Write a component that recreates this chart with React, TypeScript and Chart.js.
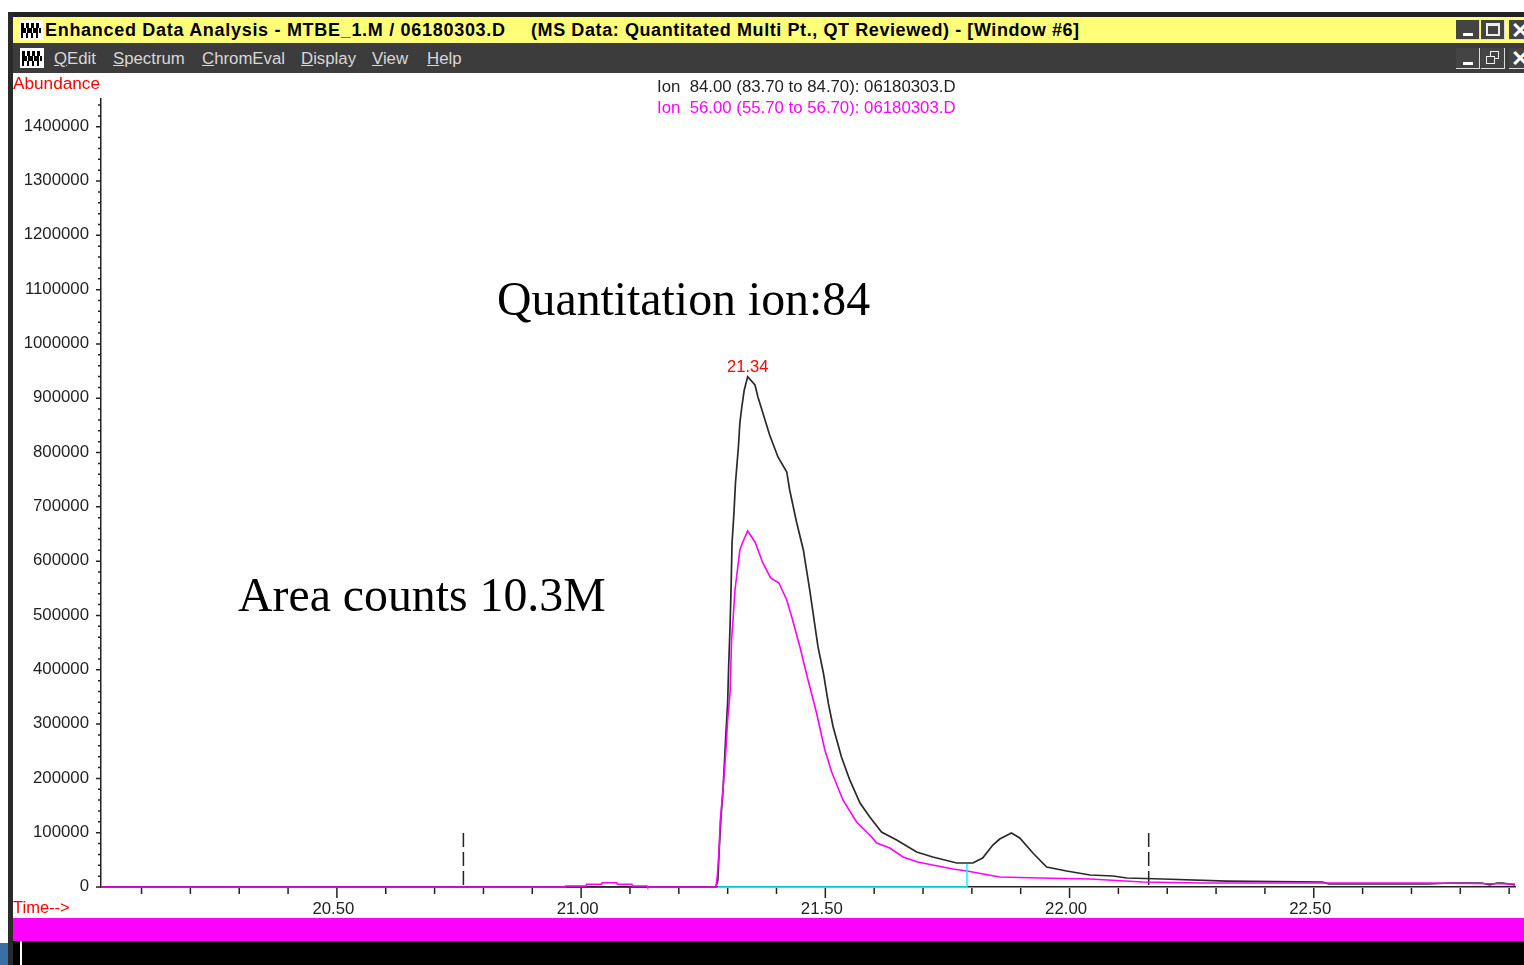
import React, { useEffect, useRef } from "react";
import { Chart, registerables } from "chart.js";

Chart.register(...registerables);

const ion84Label = "Ion  84.00 (83.70 to 84.70): 06180303.D";
const ion56Label = "Ion  56.00 (55.70 to 56.70): 06180303.D";
const peakLabel = "21.34";
const peakTime = 21.341;
const peakAbundance = 939800;

const ion84Times = [20.017, 21.276, 21.28, 21.283, 21.286, 21.29, 21.293, 21.296, 21.3, 21.302, 21.305, 21.307, 21.309, 21.313, 21.316, 21.322, 21.325, 21.329, 21.334, 21.341, 21.356, 21.362, 21.386, 21.403, 21.421, 21.427, 21.441, 21.455, 21.468, 21.485, 21.496, 21.506, 21.516, 21.533, 21.55, 21.571, 21.591, 21.615, 21.646, 21.687, 21.72, 21.769, 21.802, 21.822, 21.843, 21.857, 21.881, 21.898, 21.925, 21.953, 21.994, 22.042, 22.089, 22.117, 22.191, 22.322, 22.518, 22.531, 22.735, 22.778, 22.844, 22.86, 22.875, 22.887, 22.912];
const ion84Abundance = [0, 0, 12900, 73700, 123400, 173100, 221000, 276200, 338900, 405200, 482500, 550600, 633500, 690600, 744000, 810300, 854500, 884000, 915300, 939800, 924500, 902400, 832400, 791900, 764300, 731100, 672200, 620600, 547000, 442000, 394100, 338900, 294700, 239400, 197100, 154700, 128900, 101300, 86600, 64500, 55200, 44200, 44200, 53400, 77300, 88400, 99400, 90200, 62600, 36800, 29500, 22100, 20300, 16600, 14700, 11000, 9200, 5500, 5500, 7400, 7400, 3700, 7400, 7400, 3700];

const ion56Times = [20.017, 20.967, 20.968, 21.01, 21.011, 21.042, 21.043, 21.073, 21.074, 21.104, 21.105, 21.135, 21.136, 21.276, 21.279, 21.282, 21.285, 21.291, 21.296, 21.3, 21.305, 21.308, 21.311, 21.315, 21.325, 21.331, 21.341, 21.356, 21.372, 21.388, 21.405, 21.421, 21.433, 21.448, 21.462, 21.482, 21.499, 21.513, 21.536, 21.564, 21.595, 21.605, 21.632, 21.659, 21.689, 21.761, 21.79, 21.857, 21.939, 22.042, 22.15, 22.273, 22.533, 22.733, 22.912];
const ion56Abundance = [0, 0, 1800, 1800, 5000, 5000, 7900, 7900, 5000, 5000, 1800, 1800, 0, 0, 22100, 62600, 123400, 184200, 246800, 307500, 359100, 454900, 491700, 547000, 620600, 635400, 655600, 635400, 596700, 569100, 559800, 528500, 491700, 442000, 390400, 320400, 252300, 211800, 160200, 119700, 92100, 81000, 71800, 55200, 46000, 33100, 29500, 18400, 16600, 14700, 9200, 7400, 7400, 7400, 5500];

const baselineTimes = [21.28, 21.79, 21.79];
const baselineAbundance = [0, 0, 42400];
const startMarkerTimes = [20.759, 20.759];
const startMarkerAbundance = [3700, 99400];
const endMarkerTimes = [22.162, 22.162];
const endMarkerAbundance = [3700, 99400];

const xMin = 20.017;
const xMax = 22.912;
const yMax = 1452000;
const xStep = 0.1;
const yMinorTicks = [0, 20000, 40000, 60000, 80000, 100000, 120000, 140000, 160000, 180000, 200000, 220000, 240000, 260000, 280000, 300000, 320000, 340000, 360000, 380000, 400000, 420000, 440000, 460000, 480000, 500000, 520000, 540000, 560000, 580000, 600000, 620000, 640000, 660000, 680000, 700000, 720000, 740000, 760000, 780000, 800000, 820000, 840000, 860000, 880000, 900000, 920000, 940000, 960000, 980000, 1000000, 1020000, 1040000, 1060000, 1080000, 1100000, 1120000, 1140000, 1160000, 1180000, 1200000, 1220000, 1240000, 1260000, 1280000, 1300000, 1320000, 1340000, 1360000, 1380000, 1400000, 1420000, 1440000];

const menuItems = [
  ["Q", "Edit", 54],
  ["S", "pectrum", 113],
  ["C", "hromEval", 202],
  ["D", "isplay", 301],
  ["V", "iew", 372],
  ["H", "elp", 427],
] as const;

const zip = (xs: number[], ys: number[]) => xs.map((x, i) => ({ x, y: ys[i] }));
const SANS = '"Liberation Sans"';
const isWhole = (v: number, per: number) => Math.abs(v * per - Math.round(v * per)) < 1e-6;

const overlayPlugin = {
  id: "overlay",
  afterDatasetsDraw(chart: any) {
    const { ctx, scales } = chart;
    const x = scales.x;
    const y = scales.y;
    ctx.save();
    ctx.strokeStyle = "#222";
    ctx.lineWidth = 1.5;
    ctx.beginPath();
    for (const t of x.ticks) {
      const px = x.getPixelForValue(t.value);
      ctx.moveTo(px, y.bottom + 1);
      ctx.lineTo(px, y.bottom + (isWhole(t.value, 2) ? 11 : 7));
    }
    for (const t of y.ticks) {
      const py = y.getPixelForValue(t.value);
      ctx.moveTo(x.left, py);
      ctx.lineTo(x.left - (isWhole(t.value / 100000, 1) ? 5 : 3), py);
    }
    ctx.stroke();

    ctx.textBaseline = "middle";
    ctx.font = `17.2px ${SANS}`;
    ctx.textAlign = "left";
    ctx.fillStyle = "#ff0000";
    ctx.fillText("Abundance", 0, 11.5);
    ctx.font = `16.5px ${SANS}`;
    ctx.fillText("Time-->", 0, 835);
    ctx.textAlign = "center";
    ctx.fillText(peakLabel, x.getPixelForValue(peakTime), y.getPixelForValue(peakAbundance) - 9.5);

    ctx.textAlign = "left";
    ctx.font = `16.8px ${SANS}`;
    ctx.fillStyle = "#222";
    ctx.fillText(ion84Label, 644, 14.5);
    ctx.fillStyle = "#ff00ff";
    ctx.fillText(ion56Label, 644, 35);

    ctx.fillStyle = "#000";
    ctx.font = '47.8px "Liberation Serif"';
    ctx.textBaseline = "alphabetic";
    ctx.fillText("Quantitation ion:84", 484, 242);
    ctx.fillText("Area counts 10.3M", 225, 538);
    ctx.restore();
  },
};

const box = (left: number, top: number, width: number, height: number, background: string): React.CSSProperties => ({
  position: "absolute",
  left,
  top,
  width,
  height,
  background,
});

function AppIcon({ left, top }: { left: number; top: number }) {
  return (
    <div style={box(left, top, 24, 20, "#fff")}>
      <div style={{ ...box(2, 3, 20, 5, "repeating-linear-gradient(90deg,#000 0 3px,#fff 3px 5px)") }} />
      <div style={{ ...box(2, 8, 20, 5, "repeating-linear-gradient(90deg,#000 0 5px,#fff 5px 6px)") }} />
      <div style={{ ...box(2, 13, 20, 5, "repeating-linear-gradient(90deg,#000 0 2px,#fff 2px 5px)") }} />
    </div>
  );
}

function WinButton({ left, top, width, height, glyph }: { left: number; top: number; width: number; height: number; glyph: string }) {
  return (
    <div
      style={{
        ...box(left, top, width, height, "#444"),
        borderRight: "1px solid #ddd",
        borderBottom: "1px solid #ddd",
        boxSizing: "border-box",
        overflow: "hidden",
      }}
    >
      {glyph === "min" && <div style={box(7, height - 7, 10, 3, "#fff")} />}
      {glyph === "max" && <div style={{ ...box(5, 3, 14, 13, "transparent"), border: "2px solid #eee", borderTopWidth: 3, boxSizing: "border-box" }} />}
      {glyph === "restore" && (
        <>
          <div style={{ ...box(9, 3, 9, 8, "transparent"), border: "1.5px solid #eee", boxSizing: "border-box" }} />
          <div style={{ ...box(5, 8, 9, 8, "#444"), border: "1.5px solid #eee", boxSizing: "border-box" }} />
        </>
      )}
      {glyph === "close" && (
        <span style={{ position: "absolute", left: 2, top: -2, color: "#fff", font: `bold 22px ${SANS}` }}>✕</span>
      )}
    </div>
  );
}

export default function App() {
  const ref = useRef<HTMLCanvasElement>(null);
  useEffect(() => {
    if (!ref.current) return;
    const line = { pointRadius: 0, tension: 0, clip: false as const, fill: false };
    const chart = new Chart(ref.current, {
      type: "line",
      data: {
        datasets: [
          { label: "Baseline", data: zip(baselineTimes, baselineAbundance), borderColor: "#00ffff", borderWidth: 1.5, ...line },
          { label: ion56Label, data: zip(ion56Times, ion56Abundance), borderColor: "#ff00ff", borderWidth: 1.6, ...line },
          { label: ion84Label, data: zip(ion84Times, ion84Abundance), borderColor: "#2a2a2a", borderWidth: 1.7, ...line },
          { label: "Start", data: zip(startMarkerTimes, startMarkerAbundance), borderColor: "#222", borderWidth: 1.5, borderDash: [14, 5], ...line },
          { label: "End", data: zip(endMarkerTimes, endMarkerAbundance), borderColor: "#222", borderWidth: 1.5, borderDash: [14, 5], ...line },
        ],
      },
      options: {
        animation: false,
        responsive: false,
        devicePixelRatio: 1,
        layout: { padding: { left: 0, right: 9, top: 25.5, bottom: 0 } },
        plugins: { legend: { display: false }, tooltip: { enabled: false }, title: { display: false } },
        scales: {
          x: {
            type: "linear",
            min: xMin,
            max: xMax,
            afterFit: (s: any) => { s.height = 31; },
            grid: { drawOnChartArea: false, tickLength: 11, tickColor: "transparent" },
            border: { color: "#222", width: 1.5 },
            ticks: {
              stepSize: xStep,
              includeBounds: false,
              autoSkip: false,
              maxRotation: 0,
              padding: 1,
              labelOffset: -3.5,
              color: "#222",
              font: { family: SANS, size: 16.8 },
              callback: (v: any) => (isWhole(Number(v), 2) ? Number(v).toFixed(2) : ""),
            },
          },
          y: {
            type: "linear",
            min: 0,
            max: yMax,
            afterFit: (s: any) => { s.width = 88; },
            afterBuildTicks: (s: any) => { s.ticks = yMinorTicks.map((value) => ({ value })); },
            grid: { drawOnChartArea: false, tickLength: 8, tickColor: "transparent" },
            border: { color: "#222", width: 1.5 },
            ticks: {
              includeBounds: false,
              autoSkip: false,
              padding: 4,
              labelOffset: -0.5,
              color: "#222",
              font: { family: SANS, size: 16.8 },
              callback: (v: any) => (isWhole(Number(v) / 100000, 1) ? String(v) : ""),
            },
          },
        },
      },
      plugins: [overlayPlugin],
    } as any);
    return () => chart.destroy();
  }, []);

  return (
    <div style={{ position: "absolute", left: 0, top: 0, width: 1524, height: 965, overflow: "hidden", background: "#fff" }}>
      <div style={box(8, 12, 1516, 5, "#222")} />
      <div style={box(8, 12, 5, 953, "#2a2a2a")} />
      <div style={box(13, 17, 1511, 26, "#ffff78")} />
      <div style={box(13, 43, 1511, 30, "#3c3c3c")} />
      <AppIcon left={19} top={20} />
      <AppIcon left={20} top={48} />
      <div style={{ position: "absolute", left: 45, top: 18, whiteSpace: "pre", color: "#000", font: `bold 18px ${SANS}`, letterSpacing: 0.7, lineHeight: "24px" }}>
        Enhanced Data Analysis - MTBE_1.M / 06180303.D
      </div>
      <div style={{ position: "absolute", left: 531, top: 18, whiteSpace: "pre", color: "#000", font: `bold 18px ${SANS}`, letterSpacing: 0.59, lineHeight: "24px" }}>
        (MS Data: Quantitated Multi Pt., QT Reviewed) - [Window #6]
      </div>
      {menuItems.map(([first, rest, left]) => (
        <div key={first + rest} style={{ position: "absolute", left, top: 47, whiteSpace: "pre", color: "#d8d8d8", font: `16.8px ${SANS}`, lineHeight: "24px" }}>
          <span style={{ textDecoration: "underline" }}>{first}</span>
          {rest}
        </div>
      ))}
      <WinButton left={1456} top={20} width={24} height={20} glyph="min" />
      <WinButton left={1481} top={20} width={24} height={20} glyph="max" />
      <WinButton left={1509} top={20} width={24} height={20} glyph="close" />
      <WinButton left={1456} top={48} width={24} height={21} glyph="min" />
      <WinButton left={1481} top={48} width={24} height={21} glyph="restore" />
      <WinButton left={1509} top={48} width={24} height={21} glyph="close" />
      <canvas ref={ref} width={1511} height={845} style={{ position: "absolute", left: 13, top: 73, width: 1511, height: 845, display: "block" }} />
      <div style={box(13, 918, 1511, 23, "#ff00ff")} />
      <div style={box(13, 941, 1511, 24, "#000")} />
      <div style={box(20, 941, 2, 24, "#fff")} />
      <div style={box(0, 943, 8, 22, "#3a6ea5")} />
    </div>
  );
}
